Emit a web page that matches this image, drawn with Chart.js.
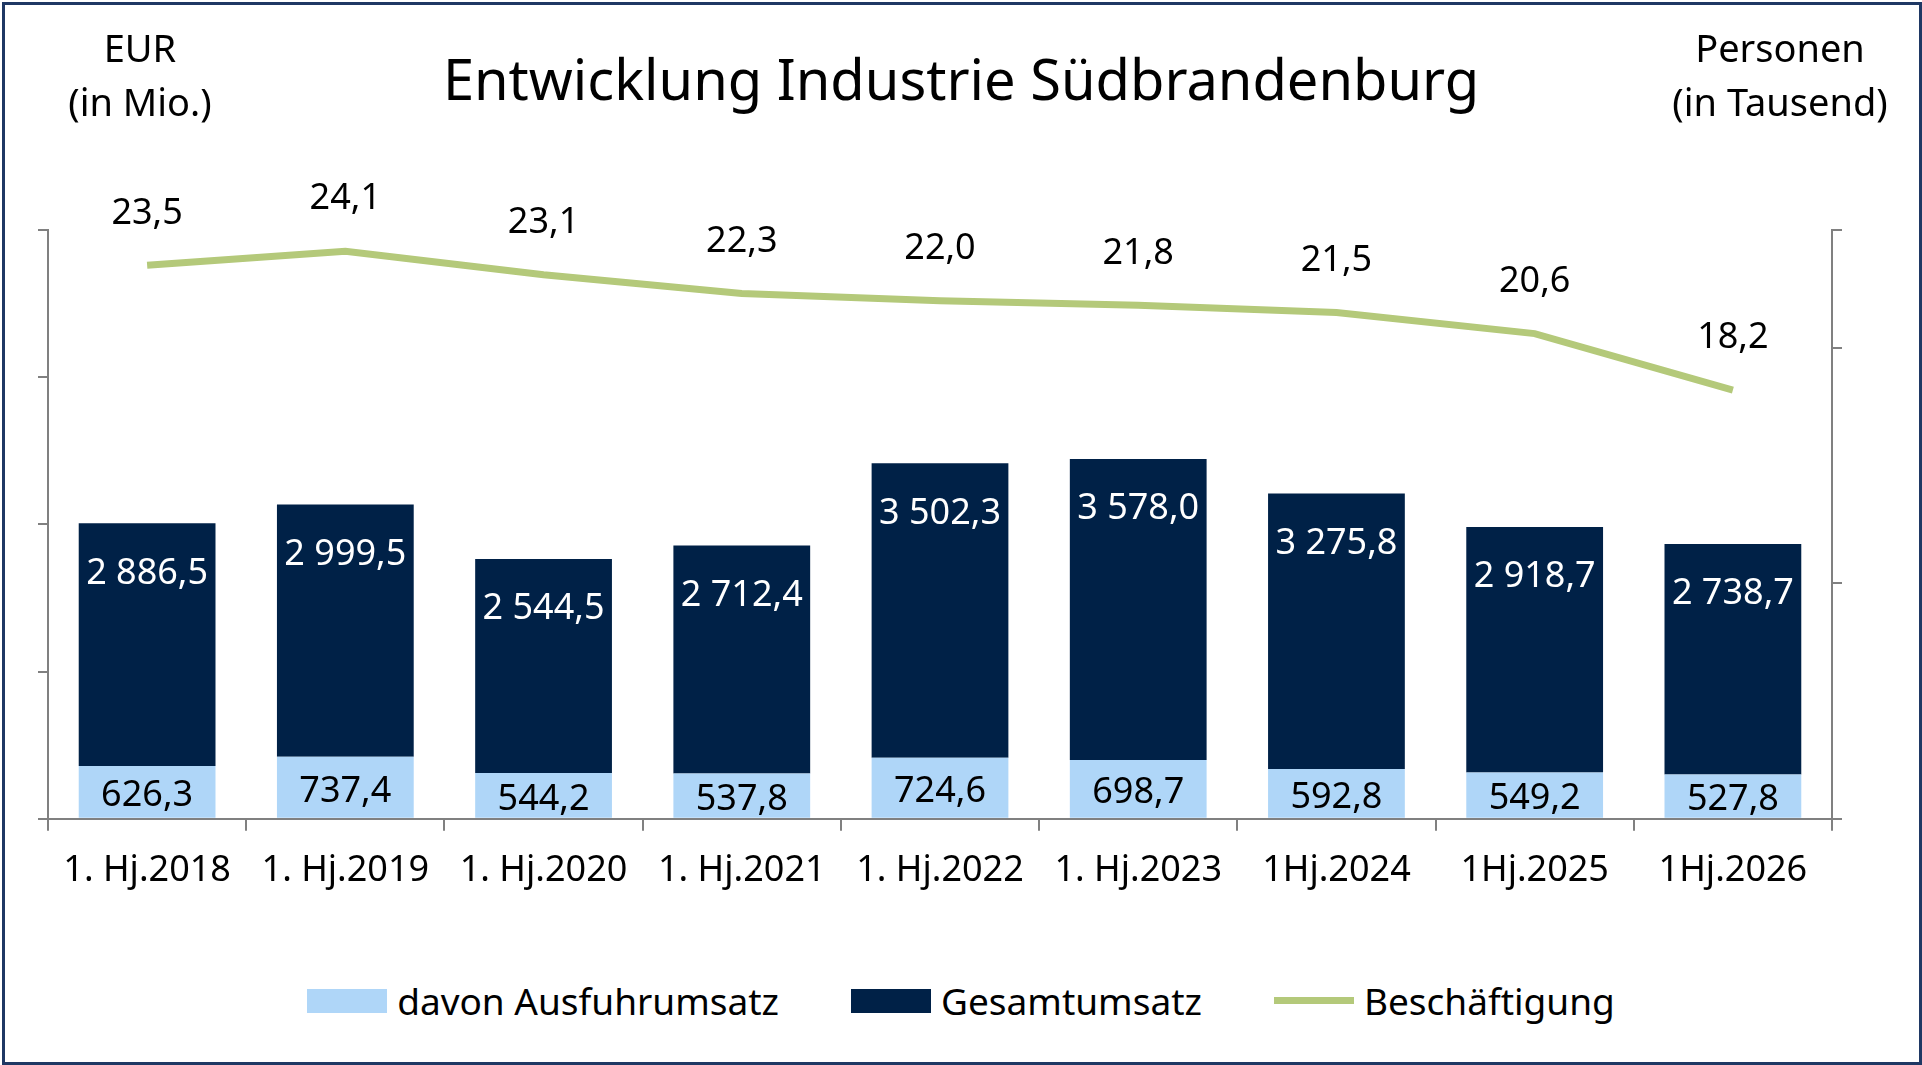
<!DOCTYPE html>
<html><head><meta charset="utf-8">
<script src="https://cdn.jsdelivr.net/npm/chart.js@4/dist/chart.umd.min.js"></script>
<style>
body{margin:0;background:#fff;font-family:"Noto Sans",sans-serif;}
#frame{position:absolute;left:2px;top:2px;width:1914px;height:1057px;border:3px solid #1f3864;}
#wrap{position:absolute;left:0;top:0;width:1922px;height:910px;}
.t{position:absolute;text-align:center;color:#000;}
#legend{position:absolute;top:975px;left:0;width:1922px;display:flex;justify-content:center;gap:72px;font-size:37px;}
#legend span{display:inline-flex;align-items:center;gap:10px;}
.box{display:inline-block;width:80px;height:24px;}
</style></head><body>
<div id="frame"></div>
<div id="wrap"><canvas id="c"></canvas></div>
<div class="t" style="left:0;width:1922px;top:40px;font-size:56px;">Entwicklung Industrie Südbrandenburg</div>
<div class="t" style="left:40px;width:200px;top:20px;font-size:38px;line-height:54px;">EUR<br>(in Mio.)</div>
<div class="t" style="left:1650px;width:260px;top:20px;font-size:38px;line-height:54px;">Personen<br>(in Tausend)</div>
<div id="legend">
<span><i class="box" style="background:#afd6f8"></i>davon Ausfuhrumsatz</span>
<span><i class="box" style="background:#002147"></i>Gesamtumsatz</span>
<span><i class="box" style="background:#b4c97a;height:7px"></i>Beschäftigung</span>
</div>
<script>
const categories = ['1. Hj.2018','1. Hj.2019','1. Hj.2020','1. Hj.2021','1. Hj.2022','1. Hj.2023','1Hj.2024','1Hj.2025','1Hj.2026'];
const exportSales = [626.3,737.4,544.2,537.8,724.6,698.7,592.8,549.2,527.8];
const totalSales = [2886.5,2999.5,2544.5,2712.4,3502.3,3578.0,3275.8,2918.7,2738.7];
const employment = [23.5,24.1,23.1,22.3,22.0,21.8,21.5,20.6,18.2];

function fmt(v){
  const s = v.toFixed(1).split('.');
  const i = s[0].replace(/\B(?=(\d{3})+(?!\d))/g,' ');
  return i + ',' + s[1];
}

// draw value labels
const labelPlugin = {
  id: 'labels',
  afterDatasetsDraw(chart) {
    const ctx = chart.ctx;
    ctx.save();
    ctx.font = '36px "Noto Sans"';
    ctx.textAlign = 'center';
    ctx.textBaseline = 'middle';
    chart.getDatasetMeta(0).data.forEach((el, i) => {
      ctx.fillStyle = '#000';
      ctx.fillText(fmt(exportSales[i]), el.x, el.y + (el.base - el.y) / 2 + 4);
    });
    chart.getDatasetMeta(1).data.forEach((el, i) => {
      ctx.fillStyle = '#fff';
      ctx.fillText(fmt(totalSales[i]), el.x, el.y + 50);
    });
    chart.getDatasetMeta(2).data.forEach((el, i) => {
      ctx.fillStyle = '#000';
      ctx.fillText(fmt(employment[i]), el.x, el.y - 52);
    });
    ctx.restore();
  }
};

new Chart(document.getElementById('c'), {
  data: {
    labels: categories,
    datasets: [
      {type:'bar', label:'davon Ausfuhrumsatz', data: exportSales, backgroundColor:'#afd6f8', yAxisID:'y', stack:'s', order:2,
       barPercentage:0.69, categoryPercentage:1},
      {type:'bar', label:'Gesamtumsatz', data: totalSales, backgroundColor:'#002147', yAxisID:'y', stack:'s', order:2,
       barPercentage:0.69, categoryPercentage:1},
      {type:'line', label:'Beschäftigung', data: employment, borderColor:'#b4c97a', borderWidth:7, pointRadius:0, yAxisID:'y2', order:1, tension:0}
    ]
  },
  options: {
    responsive:true, maintainAspectRatio:false, animation:false,
    layout:{padding:{left:38, right:80, top:230, bottom:0}},
    plugins:{legend:{display:false}, tooltip:{enabled:false}},
    scales:{
      x:{stacked:true, border:{color:'#808080', width:2},
         grid:{display:true, drawOnChartArea:false, tickLength:12, color:'#808080', lineWidth:2, offset:true},
         ticks:{color:'#000', font:{family:'Noto Sans', size:36}, padding:18, maxRotation:0}},
      y:{stacked:true, position:'left', min:0, max:7000, border:{color:'#808080', width:2},
         grid:{drawOnChartArea:false, tickLength:10, color:'#808080', lineWidth:2},
         ticks:{stepSize:2000, display:true, callback:()=>'', padding:0}},
      y2:{position:'right', min:0, max:25, border:{color:'#808080', width:2},
         grid:{drawOnChartArea:false, tickLength:10, color:'#808080', lineWidth:2},
         ticks:{stepSize:10, callback:()=>'', padding:0}}
    }
  },
  plugins:[labelPlugin]
});
</script>
</body></html>
